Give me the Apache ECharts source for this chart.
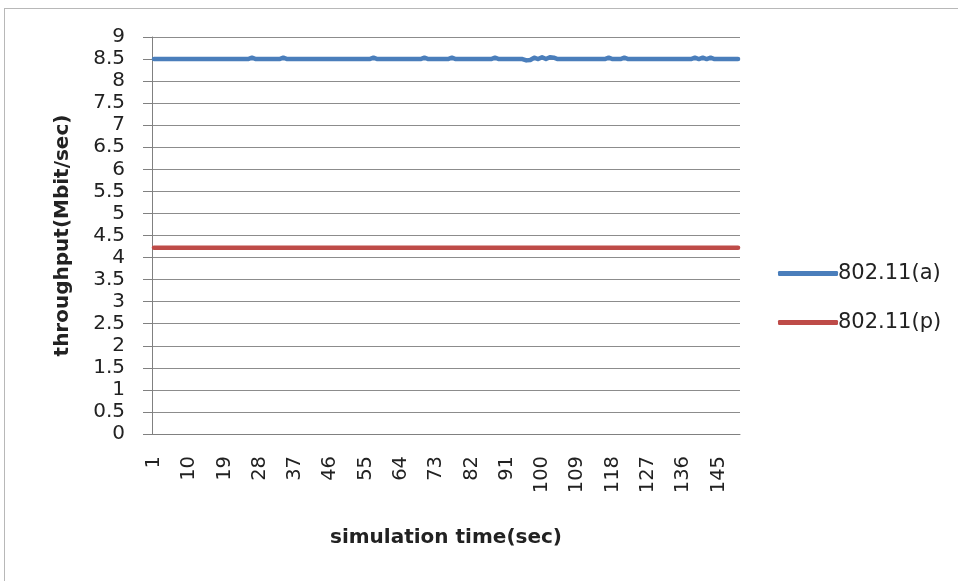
<!DOCTYPE html>
<html>
<head>
<meta charset="utf-8">
<script src="https://cdn.jsdelivr.net/npm/echarts@6/dist/echarts.min.js"></script>
<style>
  html, body { margin: 0; padding: 0; background: #fff; }
  #frame { position: absolute; left: 4px; top: 8px; width: 970px; height: 590px; border: 1px solid #b8b8b8; box-sizing: border-box; }
  #chart { position: absolute; left: 0; top: 0; width: 958px; height: 581px; }
</style>
</head>
<body>
<div id="frame"></div>
<div id="chart"></div>
<script>
// simulation time steps (sec)
const timeSteps = [
  1,2,3,4,5,6,7,8,9,10,11,12,13,14,15,16,17,18,19,20,
  21,22,23,24,25,26,27,28,29,30,31,32,33,34,35,36,37,38,39,40,
  41,42,43,44,45,46,47,48,49,50,51,52,53,54,55,56,57,58,59,60,
  61,62,63,64,65,66,67,68,69,70,71,72,73,74,75,76,77,78,79,80,
  81,82,83,84,85,86,87,88,89,90,91,92,93,94,95,96,97,98,99,100,
  101,102,103,104,105,106,107,108,109,110,111,112,113,114,115,116,117,118,119,120,
  121,122,123,124,125,126,127,128,129,130,131,132,133,134,135,136,137,138,139,140,
  141,142,143,144,145,146,147,148,149,150
];

// throughput of 802.11(a), Mbit/sec
const throughputA = [
  8.5,8.5,8.5,8.5,8.5,8.5,8.5,8.5,8.5,8.5,
  8.5,8.5,8.5,8.5,8.5,8.5,8.5,8.5,8.5,8.5,
  8.5,8.5,8.5,8.5,8.5,8.53,8.5,8.5,8.5,8.5,
  8.5,8.5,8.5,8.53,8.5,8.5,8.5,8.5,8.5,8.5,
  8.5,8.5,8.5,8.5,8.5,8.5,8.5,8.5,8.5,8.5,
  8.5,8.5,8.5,8.5,8.5,8.5,8.53,8.5,8.5,8.5,
  8.5,8.5,8.5,8.5,8.5,8.5,8.5,8.5,8.5,8.53,
  8.5,8.5,8.5,8.5,8.5,8.5,8.53,8.5,8.5,8.5,
  8.5,8.5,8.5,8.5,8.5,8.5,8.5,8.53,8.5,8.5,
  8.5,8.5,8.5,8.5,8.5,8.47,8.48,8.53,8.5,8.54,
  8.5,8.54,8.53,8.5,8.5,8.5,8.5,8.5,8.5,8.5,
  8.5,8.5,8.5,8.5,8.5,8.5,8.53,8.5,8.5,8.5,
  8.53,8.5,8.5,8.5,8.5,8.5,8.5,8.5,8.5,8.5,
  8.5,8.5,8.5,8.5,8.5,8.5,8.5,8.5,8.53,8.5,
  8.53,8.5,8.53,8.5,8.5,8.5,8.5,8.5,8.5,8.5
];

// throughput of 802.11(p), Mbit/sec
const throughputP = [
  4.22,4.22,4.22,4.22,4.22,4.22,4.22,4.22,4.22,4.22,
  4.22,4.22,4.22,4.22,4.22,4.22,4.22,4.22,4.22,4.22,
  4.22,4.22,4.22,4.22,4.22,4.22,4.22,4.22,4.22,4.22,
  4.22,4.22,4.22,4.22,4.22,4.22,4.22,4.22,4.22,4.22,
  4.22,4.22,4.22,4.22,4.22,4.22,4.22,4.22,4.22,4.22,
  4.22,4.22,4.22,4.22,4.22,4.22,4.22,4.22,4.22,4.22,
  4.22,4.22,4.22,4.22,4.22,4.22,4.22,4.22,4.22,4.22,
  4.22,4.22,4.22,4.22,4.22,4.22,4.22,4.22,4.22,4.22,
  4.22,4.22,4.22,4.22,4.22,4.22,4.22,4.22,4.22,4.22,
  4.22,4.22,4.22,4.22,4.22,4.22,4.22,4.22,4.22,4.22,
  4.22,4.22,4.22,4.22,4.22,4.22,4.22,4.22,4.22,4.22,
  4.22,4.22,4.22,4.22,4.22,4.22,4.22,4.22,4.22,4.22,
  4.22,4.22,4.22,4.22,4.22,4.22,4.22,4.22,4.22,4.22,
  4.22,4.22,4.22,4.22,4.22,4.22,4.22,4.22,4.22,4.22,
  4.22,4.22,4.22,4.22,4.22,4.22,4.22,4.22,4.22,4.22
];

const seriesNames = ['802.11(a)', '802.11(p)'];
const seriesColors = ['#4a7ebb', '#be4b48'];

const chart = echarts.init(document.getElementById('chart'), null, { renderer: 'canvas' });
const fontFamily = '"DejaVu Sans", "Open Sans", sans-serif';

chart.setOption({
  animation: false,
  backgroundColor: 'transparent',
  grid: { left: 152, right: 218, top: 37, bottom: 147, containLabel: false },
  legend: {
    orient: 'vertical',
    left: 773,
    top: 258,
    itemGap: 28,
    itemWidth: 60,
    itemHeight: 5,
    icon: 'roundRect',
    textStyle: { fontFamily: fontFamily, fontSize: 21, color: '#222', padding: [0, 0, 0, -5] },
    data: seriesNames
  },
  xAxis: {
    type: 'category',
    data: timeSteps,
    boundaryGap: true,
    name: 'simulation time(sec)',
    nameLocation: 'middle',
    nameGap: 94,
    nameTextStyle: { fontFamily: fontFamily, fontSize: 20, fontWeight: 'bold', color: '#222' },
    axisLine: { lineStyle: { color: '#808080', width: 1 } },
    axisTick: { show: false },
    axisLabel: {
      interval: 8,
      rotate: 90,
      margin: 22,
      fontFamily: fontFamily,
      fontSize: 19.5,
      color: '#222'
    },
    splitLine: { show: false }
  },
  yAxis: {
    type: 'value',
    min: 0,
    max: 9,
    interval: 0.5,
    name: 'throughput(Mbit/sec)',
    nameLocation: 'middle',
    nameGap: 79,
    nameTextStyle: { fontFamily: fontFamily, fontSize: 20, fontWeight: 'bold', color: '#222' },
    axisLine: { show: true, lineStyle: { color: '#808080', width: 1 } },
    axisTick: { show: true, length: 9, lineStyle: { color: '#808080' } },
    axisLabel: { fontFamily: fontFamily, fontSize: 20, color: '#222', margin: 27 },
    splitLine: { show: true, lineStyle: { color: '#8c8c8c', width: 1 } }
  },
  series: [
    {
      name: seriesNames[0],
      type: 'line',
      data: throughputA,
      color: seriesColors[0],
      showSymbol: false,
      symbol: 'none',
      lineStyle: { width: 4.5, color: seriesColors[0], cap: 'round', join: 'round' }
    },
    {
      name: seriesNames[1],
      type: 'line',
      data: throughputP,
      color: seriesColors[1],
      showSymbol: false,
      symbol: 'none',
      lineStyle: { width: 4.5, color: seriesColors[1], cap: 'round', join: 'round' }
    }
  ]
});
</script>
</body>
</html>
